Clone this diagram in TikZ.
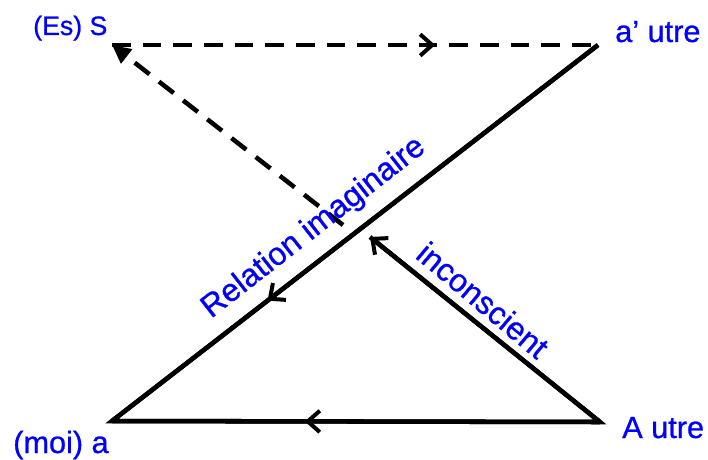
\documentclass[tikz,border=0pt]{standalone}
\usepackage{fontspec}
\setmainfont{Liberation Sans}[FakeBold=0.8]
\usetikzlibrary{arrows.meta,decorations.markings}
\begin{document}
\begin{tikzpicture}[x=0.75pt,y=-0.75pt,
  conn/.style={line width=3.4pt},
  dashconn/.style={line width=3.4pt, dash pattern=on 14pt off 9pt},
  lbl/.style={text=blue, inner sep=0pt},
  barb/.tip={Straight Barb[length=9pt,width=16pt,line width=3pt]},
  midarrow/.style={postaction={decorate}, decoration={markings,
     mark=at position #1 with {\arrow{barb}}}}
]
\useasboundingbox (0,0) rectangle (708,460);
\coordinate (S) at (112,45);
\coordinate (ap) at (598,45);
\coordinate (a) at (112,421);
\coordinate (A) at (600,422);
\coordinate (D) at (343,225);
\coordinate (I) at (370,237);

% joined outlines for sharp corners
\draw[conn, line join=miter] (ap) -- (a) -- (A) -- (I);
% arrowed connectors
\draw[dashconn, midarrow=0.665] (S) -- (ap);
\draw[dashconn, -{Triangle[length=14pt,width=13pt]}] (D) -- (S);
\draw[conn, midarrow=0.68] (ap) -- (a);
\draw[conn, midarrow=0.605] (A) -- (a);
\draw[conn, -{barb}] (A) -- (I);

% labels
\node[lbl, anchor=base west, font=\fontsize{20}{24}\selectfont] (lS) at (33,35) {(Es) S};
\node[lbl, anchor=base west, font=\fontsize{23}{28}\selectfont] (lap) at (615,42) {a’ utre};
\node[lbl, anchor=base west, font=\fontsize{23}{28}\selectfont] (la) at (13,453) {(moi) a};
\node[lbl, anchor=base west, font=\fontsize{23}{28}\selectfont] (lA) at (622,438) {A utre};
\node[lbl, rotate=38, font=\fontsize{24}{28}\selectfont] (lrel) at (314,228) {Relation imaginaire};
\node[lbl, rotate=-40, font=\fontsize{24}{28}\selectfont] (linc) at (483,300) {inconscient};
\end{tikzpicture}
\end{document}
